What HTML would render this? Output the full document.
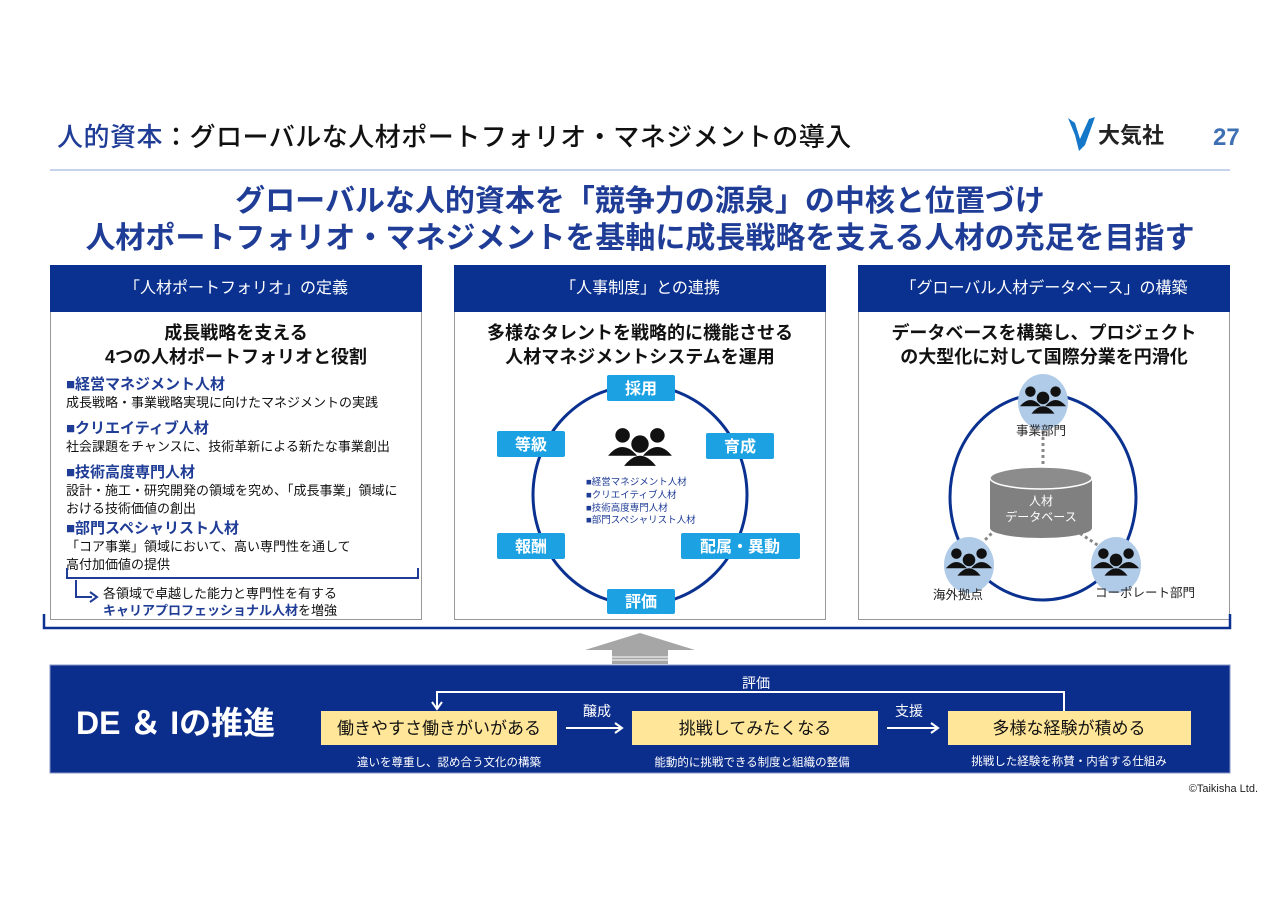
<!DOCTYPE html>
<html><head><meta charset="utf-8"><style>
body{margin:0;width:1280px;height:905px;background:#fff;position:relative;overflow:hidden;font-family:"Liberation Sans","Noto Sans CJK JP",sans-serif;}
.a{position:absolute;white-space:nowrap;}
.c{text-align:center;}
</style></head><body>
<div class="a" style="left:57px;top:117px;font-size:26px;color:#111;font-weight:500;letter-spacing:0.5px">
<span style="color:#1f3c96">人的資本</span>：グローバルな人材ポートフォリオ・マネジメントの導入</div>
<div class="a" style="left:1098px;top:118px;font-size:22px;font-weight:bold;color:#222">大気社</div>
<svg class="a" style="left:1065px;top:115px" width="35" height="40"><path d="M3 3 L10 8 L15 24 L24 4 L30 2 L20 30 L14 36 L10 20 Z" fill="#1477c8"/></svg>
<div class="a" style="left:1213px;top:124px;font-size:24px;color:#3e6fb3;font-weight:bold">27</div>
<div class="a" style="left:50px;top:169px;width:1180px;height:2px;background:#c5d4ec"></div>
<div class="a c" style="left:0;width:1280px;top:183px;font-size:30px;font-weight:bold;color:#1f3c96;line-height:37px">グローバルな人的資本を「競争力の源泉」の中核と位置づけ<br>人材ポートフォリオ・マネジメントを基軸に成長戦略を支える人材の充足を目指す</div>

<div class="a" style="left:50px;top:265px;width:370px;height:353px;border:1px solid #999"></div>
<div class="a" style="left:454px;top:265px;width:370px;height:353px;border:1px solid #999"></div>
<div class="a" style="left:858px;top:265px;width:370px;height:353px;border:1px solid #999"></div>
<div class="a c" style="left:50px;top:265px;width:372px;height:47px;background:#0a3190;color:#fff;font-size:16px;line-height:47px">「人材ポートフォリオ」の定義</div>
<div class="a c" style="left:454px;top:265px;width:372px;height:47px;background:#0a3190;color:#fff;font-size:16px;line-height:47px">「人事制度」との連携</div>
<div class="a c" style="left:858px;top:265px;width:372px;height:47px;background:#0a3190;color:#fff;font-size:16px;line-height:47px">「グローバル人材データベース」の構築</div>

<div class="a c" style="left:50px;width:372px;top:321px;font-size:18px;font-weight:bold;line-height:24px;color:#111">成長戦略を支える<br>4つの人材ポートフォリオと役割</div>
<div class="a" style="left:66px;top:376px;font-size:13px;line-height:18px;color:#111">
<div style="color:#1f3c96;font-weight:bold;font-size:15px">■経営マネジメント人材</div>
<div>成長戦略・事業戦略実現に向けたマネジメントの実践</div>
<div style="color:#1f3c96;font-weight:bold;font-size:15px;margin-top:8px">■クリエイティブ人材</div>
<div>社会課題をチャンスに、技術革新による新たな事業創出</div>
<div style="color:#1f3c96;font-weight:bold;font-size:15px;margin-top:8px">■技術高度専門人材</div>
<div>設計・施工・研究開発の領域を究め、「成長事業」領域に<br>おける技術価値の創出</div>
<div style="color:#1f3c96;font-weight:bold;font-size:15px;margin-top:2px">■部門スペシャリスト人材</div>
<div>「コア事業」領域において、高い専門性を通して<br>高付加価値の提供</div>
</div>
<div class="a" style="left:103px;top:585px;font-size:13px;line-height:17px;color:#111">各領域で卓越した能力と専門性を有する<br><span style="color:#1f3c96;font-weight:bold">キャリアプロフェッショナル人材</span>を増強</div>

<div class="a c" style="left:454px;width:372px;top:321px;font-size:18px;font-weight:bold;line-height:24px;color:#111">多様なタレントを戦略的に機能させる<br>人材マネジメントシステムを運用</div>
<div class="a c" style="left:858px;width:372px;top:321px;font-size:18px;font-weight:bold;line-height:24px;color:#111">データベースを構築し、プロジェクト<br>の大型化に対して国際分業を円滑化</div>

<svg class="a" style="left:0;top:0" width="1280" height="905">
<defs>
<g id="ppl"><circle cx="-12" cy="-8" r="5"/><path d="M-22 6 Q-12 -6 -2 6 Z"/><circle cx="12" cy="-8" r="5"/><path d="M2 6 Q12 -6 22 6 Z"/><circle cx="0" cy="-2" r="6"/><path d="M-11 13 Q0 -1 11 13 Z"/></g>
</defs>
<path d="M67 568 V578 H418 V568" fill="none" stroke="#1f3c96" stroke-width="2"/>
<path d="M76 580 V597 H92" fill="none" stroke="#1f3c96" stroke-width="2"/><path d="M90 592 L97 597 L90 602" fill="none" stroke="#1f3c96" stroke-width="2"/>
<path d="M44 614 V628 H1230 V614" fill="none" stroke="#0a3190" stroke-width="2.5"/>
<ellipse cx="640" cy="495" rx="107" ry="110" fill="none" stroke="#0a3190" stroke-width="3"/>
<g fill="#1ca2e3">
<rect x="607" y="375" width="68" height="26" rx="2"/><rect x="497" y="431" width="68" height="26" rx="2"/><rect x="706" y="433" width="68" height="26" rx="2"/>
<rect x="497" y="533" width="68" height="26" rx="2"/><rect x="681" y="533" width="119" height="26" rx="2"/><rect x="607" y="589" width="68" height="25" rx="2"/></g>
<g fill="#fff" font-size="16" font-weight="bold" text-anchor="middle">
<text x="641" y="394">採用</text><text x="531" y="450">等級</text><text x="740" y="452">育成</text><text x="531" y="552">報酬</text><text x="740" y="552">配属・異動</text><text x="641" y="607">評価</text></g>
<use href="#ppl" fill="#111" transform="translate(640 447) scale(1.45)"/>
<g font-size="9.5" fill="#1f3c96"><text x="586" y="485">■経営マネジメント人材</text><text x="586" y="498">■クリエイティブ人材</text><text x="586" y="511">■技術高度専門人材</text><text x="586" y="523">■部門スペシャリスト人材</text></g>
<ellipse cx="1043" cy="497" rx="93" ry="103" fill="none" stroke="#0a3190" stroke-width="3"/>
<g stroke="#888" stroke-width="3" stroke-dasharray="3 3"><line x1="1043" y1="425" x2="1043" y2="467"/><line x1="1000" y1="525" x2="975" y2="550"/><line x1="1075" y1="530" x2="1105" y2="550"/></g>
<path d="M990 478 V528 A51 10 0 0 0 1092 528 V478 Z" fill="#808080"/><ellipse cx="1041" cy="478" rx="51" ry="11" fill="#8c8c8c" stroke="#fff" stroke-width="1.5"/>
<text x="1041" y="505" fill="#fff" font-size="12" text-anchor="middle">人材</text><text x="1041" y="521" fill="#fff" font-size="12" text-anchor="middle">データベース</text>
<g fill="#b0cbe8"><ellipse cx="1043" cy="402" rx="25" ry="28"/><ellipse cx="969" cy="565" rx="25" ry="28"/><ellipse cx="1116" cy="565" rx="25" ry="28"/></g>
<use href="#ppl" fill="#111" transform="translate(1043 400) scale(1.05)"/>
<use href="#ppl" fill="#111" transform="translate(969 562) scale(1.05)"/>
<use href="#ppl" fill="#111" transform="translate(1116 562) scale(1.05)"/>
<g font-size="12.5" fill="#222"><text x="1041" y="435" text-anchor="middle">事業部門</text><text x="958" y="599" text-anchor="middle">海外拠点</text><text x="1145" y="597" text-anchor="middle">コーポレート部門</text></g>
<path d="M585 650 L640 633 L695 650 L668 650 L668 664 L612 664 L612 650 Z" fill="#a6a6a6"/>
<g stroke="#fff" stroke-width="1"><line x1="612" y1="657" x2="668" y2="657"/><line x1="612" y1="660" x2="668" y2="660"/></g>
<rect x="50" y="665" width="1180" height="108" fill="#0b2d8c"/>
<rect x="50" y="665" width="1180" height="108" fill="none" stroke="#8896c8" stroke-width="1"/>
<text x="76" y="734" fill="#fff" font-size="32" font-weight="bold">DE ＆ Iの推進</text>
<g fill="#ffe699"><rect x="321" y="711" width="236" height="34"/><rect x="632" y="711" width="246" height="34"/><rect x="948" y="711" width="243" height="34"/></g>
<g fill="#111" font-size="17" text-anchor="middle"><text x="439" y="734">働きやすさ働きがいがある</text><text x="755" y="734">挑戦してみたくなる</text><text x="1069" y="734">多様な経験が積める</text></g>
<g stroke="#fff" stroke-width="2" fill="none">
<path d="M1064 711 V692 H437 V708"/><path d="M432 702 L437 709 L442 702"/>
<path d="M566 728 H621"/><path d="M615 723 L622 728 L615 733"/>
<path d="M887 728 H937"/><path d="M931 723 L938 728 L931 733"/></g>
<g fill="#fff" font-size="14" text-anchor="middle"><text x="756" y="688">評価</text><text x="597" y="716">醸成</text><text x="909" y="716">支援</text></g>
<g fill="#fff" font-size="11.5" text-anchor="middle"><text x="449" y="766">違いを尊重し、認め合う文化の構築</text><text x="752" y="766">能動的に挑戦できる制度と組織の整備</text><text x="1069" y="765">挑戦した経験を称賛・内省する仕組み</text></g>
<text x="1258" y="792" fill="#222" font-size="11" text-anchor="end">©Taikisha Ltd.</text>
</svg>
</body></html>
